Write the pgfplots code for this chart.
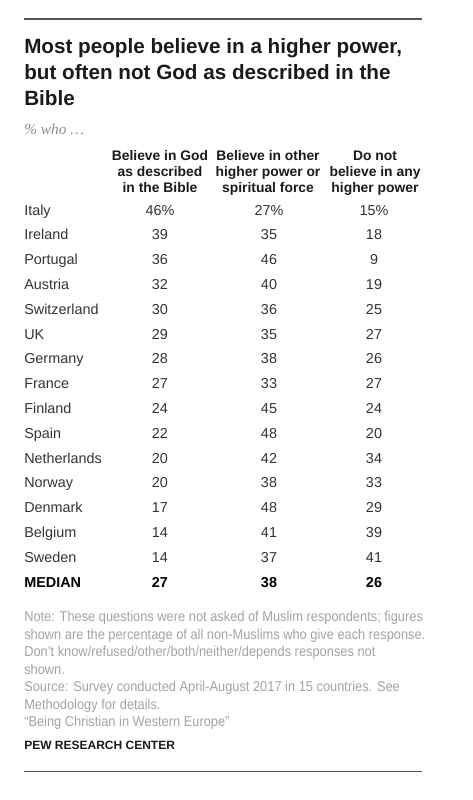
\documentclass[border=0pt]{standalone}
\usepackage{fontspec}
\setmainfont{Liberation Sans}
\newfontfamily\seriffont{Liberation Serif}
\newfontfamily\notefont[FakeStretch=0.9]{Liberation Sans}
\usepackage{pgfplots}
\usepackage{pgfplotstable}
\pgfplotsset{compat=1.18}
\definecolor{titlec}{HTML}{1A1A1A}
\definecolor{bodyc}{HTML}{333333}
\definecolor{notec}{HTML}{A3A3A3}
\definecolor{rulec}{HTML}{555555}
\pgfplotstableread{
country v1 v2 v3
Italy 46 27 15
Ireland 39 35 18
Portugal 36 46 9
Austria 32 40 19
Switzerland 30 36 25
UK 29 35 27
Germany 28 38 26
France 27 33 27
Finland 24 45 24
Spain 22 48 20
Netherlands 20 42 34
Norway 20 38 33
Denmark 17 48 29
Belgium 14 41 39
Sweden 14 37 41
MEDIAN 27 38 26
}\datatable
\pgfplotsset{
  italyrow/.style={skip coords between index={1}{16}},
  bodyrows/.style={skip coords between index={0}{1}, skip coords between index={15}{16}},
  medianrow/.style={skip coords between index={0}{15}},
}
\tikzset{
  hdr/.style={anchor=base, inner sep=0pt, text=titlec, font=\fontsize{10.4}{12}\selectfont\bfseries},
  ttl/.style={anchor=base west, inner sep=0pt, text=titlec, font=\fontsize{15.5}{19}\selectfont\bfseries},
  nte/.style={anchor=base west, inner sep=0pt, text=notec, font=\notefont\fontsize{10.7}{12}\selectfont},
}
\newcommand{\rowy}{215+24.8*\coordindex}
\begin{document}
\begin{tikzpicture}[x=0.75pt,y=0.75pt]
\begin{axis}[
  scale only axis, width=354.75pt, height=600pt,
  xmin=0, xmax=473, ymin=0, ymax=800, y dir=reverse,
  hide axis, clip=false,
  every node near coord/.style={anchor=base, inner sep=0pt, font=\fontsize{10.8}{12}\selectfont, text=bodyc},
]
% rules
\draw[rulec, line width=0.8pt] (axis cs:24,19) -- (axis cs:422,19);
\draw[rulec, line width=0.8pt] (axis cs:24,771.5) -- (axis cs:422,771.5);
% title
\node[ttl] at (axis cs:24,53) {Most people believe in a higher power,};
\node[ttl] at (axis cs:24,79) {but often not God as described in the};
\node[ttl] at (axis cs:24,105.5) {Bible};
\node[anchor=base west, inner sep=0pt, text=notec!85!black, font=\seriffont\itshape\fontsize{11.5}{13}\selectfont] at (axis cs:24,134.5) {\% who \dots};
% headers
\node[hdr] at (axis cs:160,160.5) {Believe in God};
\node[hdr] at (axis cs:160,176.5) {as described};
\node[hdr] at (axis cs:160,192) {in the Bible};
\node[hdr] at (axis cs:268,160.5) {Believe in other};
\node[hdr] at (axis cs:268,176.5) {higher power or};
\node[hdr] at (axis cs:268,192) {spiritual force};
\node[hdr] at (axis cs:375,160.5) {Do not};
\node[hdr] at (axis cs:375,176.5) {believe in any};
\node[hdr] at (axis cs:375,192) {higher power};
% country names
\addplot[draw=none, mark=none, nodes near coords, point meta=explicit symbolic,
  skip coords between index={15}{16},
  every node near coord/.append style={anchor=base west}]
  table[x expr=24, y expr={\rowy}, meta=country] {\datatable};
\addplot[draw=none, mark=none, nodes near coords={\textbf{MEDIAN}}, point meta=explicit symbolic,
  medianrow,
  every node near coord/.append style={anchor=base west, text=black}]
  table[x expr=24, y expr={\rowy}, meta=country] {\datatable};
% Italy row with percent signs
\addplot[draw=none, mark=none, nodes near coords={\pgfplotspointmeta\%}, point meta=explicit symbolic, italyrow]
  table[x expr=160, y expr={\rowy}, meta=v1] {\datatable};
\addplot[draw=none, mark=none, nodes near coords={\pgfplotspointmeta\%}, point meta=explicit symbolic, italyrow]
  table[x expr=269, y expr={\rowy}, meta=v2] {\datatable};
\addplot[draw=none, mark=none, nodes near coords={\pgfplotspointmeta\%}, point meta=explicit symbolic, italyrow]
  table[x expr=374, y expr={\rowy}, meta=v3] {\datatable};
% body rows
\addplot[draw=none, mark=none, nodes near coords, point meta=explicit symbolic, bodyrows]
  table[x expr=160, y expr={\rowy}, meta=v1] {\datatable};
\addplot[draw=none, mark=none, nodes near coords, point meta=explicit symbolic, bodyrows]
  table[x expr=269, y expr={\rowy}, meta=v2] {\datatable};
\addplot[draw=none, mark=none, nodes near coords, point meta=explicit symbolic, bodyrows]
  table[x expr=374, y expr={\rowy}, meta=v3] {\datatable};
% median row
\addplot[draw=none, mark=none, nodes near coords={\textbf{\pgfplotspointmeta}}, point meta=explicit symbolic, medianrow, every node near coord/.append style={text=black}]
  table[x expr=160, y expr={\rowy}, meta=v1] {\datatable};
\addplot[draw=none, mark=none, nodes near coords={\textbf{\pgfplotspointmeta}}, point meta=explicit symbolic, medianrow, every node near coord/.append style={text=black}]
  table[x expr=269, y expr={\rowy}, meta=v2] {\datatable};
\addplot[draw=none, mark=none, nodes near coords={\textbf{\pgfplotspointmeta}}, point meta=explicit symbolic, medianrow, every node near coord/.append style={text=black}]
  table[x expr=374, y expr={\rowy}, meta=v3] {\datatable};
% notes
\node[nte] at (axis cs:24,621.5) {Note: These questions were not asked of Muslim respondents; figures};
\node[nte] at (axis cs:24,639) {shown are the percentage of all non-Muslims who give each response.};
\node[nte] at (axis cs:24,656.5) {Don’t know/refused/other/both/neither/depends responses not};
\node[nte] at (axis cs:24,674) {shown.};
\node[nte] at (axis cs:24,691.5) {Source: Survey conducted April-August 2017 in 15 countries. See};
\node[nte] at (axis cs:24,709) {Methodology for details.};
\node[nte] at (axis cs:24,726.5) {“Being Christian in Western Europe”};
\node[anchor=base west, inner sep=0pt, text=titlec, font=\bfseries\fontsize{9}{10}\selectfont] at (axis cs:24,749) {PEW RESEARCH CENTER};
\end{axis}
\path (current axis.south west) rectangle (current axis.north east);
\end{tikzpicture}
\end{document}
